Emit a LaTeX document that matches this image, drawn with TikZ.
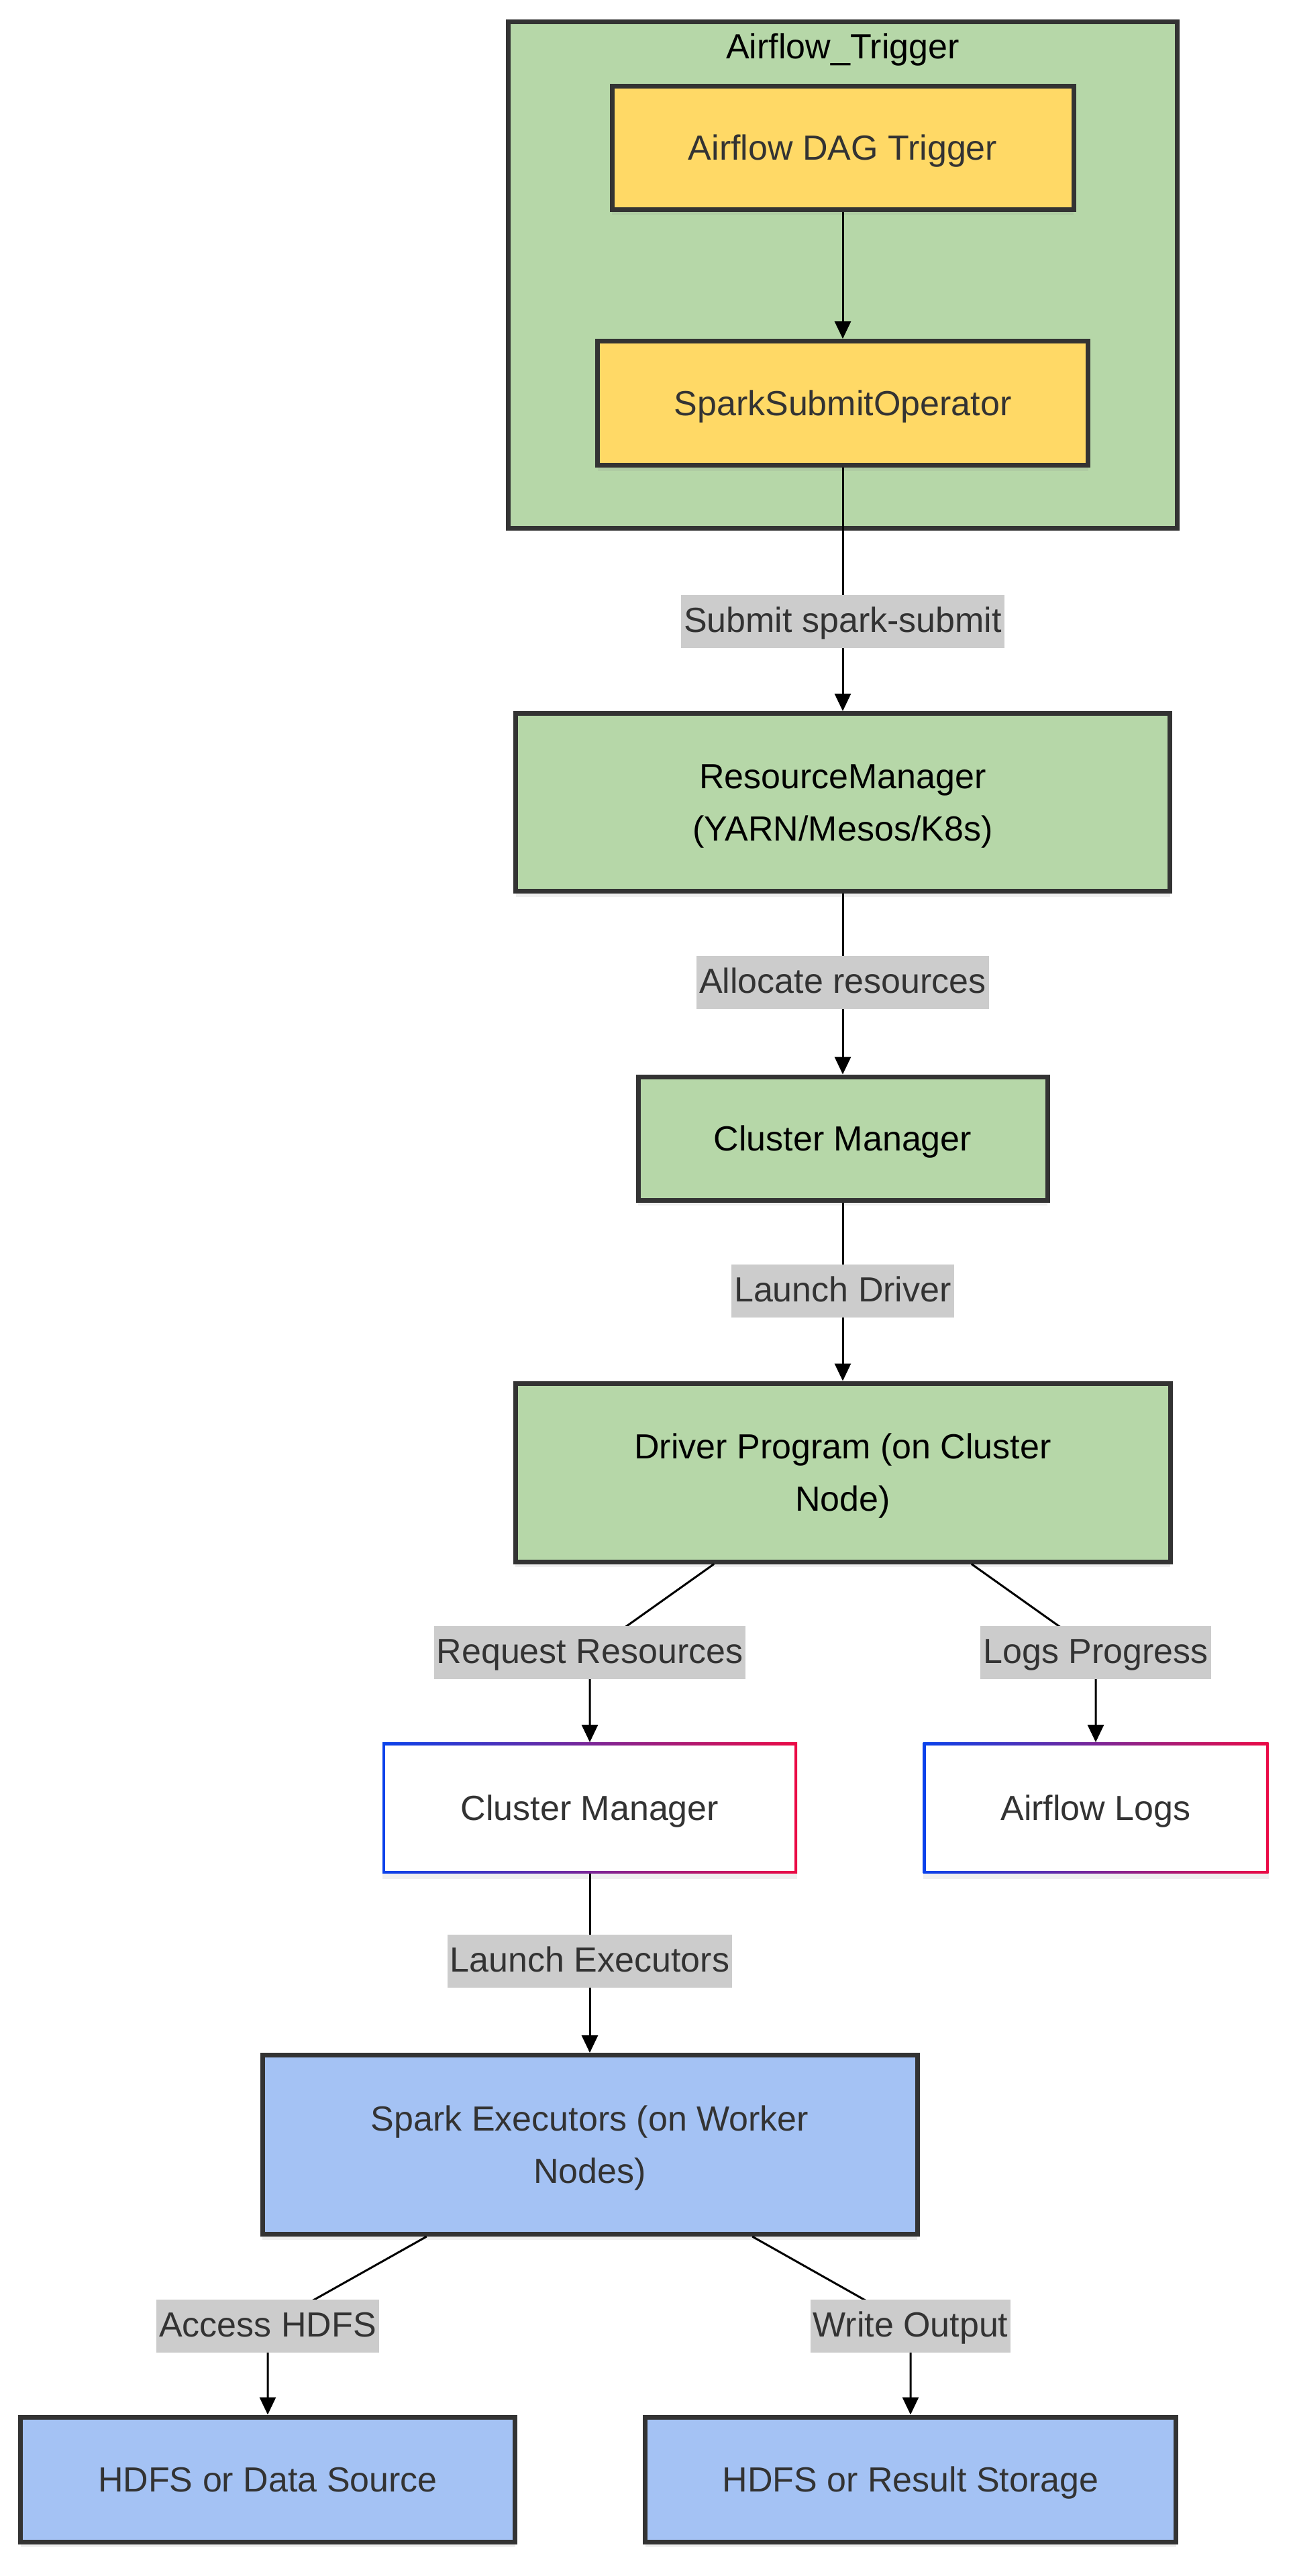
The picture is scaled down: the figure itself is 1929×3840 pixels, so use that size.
\documentclass[tikz,border=0pt]{standalone}
\usepackage{fontspec}
\setmainfont{Liberation Sans}
\usetikzlibrary{arrows.meta,shadows}
\definecolor{gfill}{HTML}{B6D7A8}
\definecolor{yfill}{HTML}{FFD966}
\definecolor{bfill}{HTML}{A4C2F4}
\definecolor{bord}{HTML}{333333}
\definecolor{txt}{HTML}{333333}
\definecolor{lblbg}{HTML}{CCCCCC}
\definecolor{gblue}{HTML}{0A42EB}
\definecolor{gred}{HTML}{EB0A45}
\newcommand{\firststrut}{\rule{0pt}{24pt}}
\tikzset{
  fnt/.style={font=\fontsize{26pt}{39pt}\selectfont},
  shad/.style={drop shadow={shadow xshift=0pt,shadow yshift=-4pt,opacity=0.12}},
  boxbase/.style={rectangle, draw=bord, line width=3.5pt, fnt, align=center, inner sep=0pt, shad},
  oneline/.style={text height=23.5pt, text depth=5.5pt},
  ybox/.style={boxbase, fill=yfill, text=txt},
  gbox/.style={boxbase, fill=gfill, text=black},
  bbox/.style={boxbase, fill=bfill, text=txt},
  gradbox/.style={rectangle, fill=white, text=txt, fnt, align=center, inner sep=0pt, shad, oneline,
    path picture={
      \shade[left color=gblue, right color=gred]
        (path picture bounding box.south west) rectangle (path picture bounding box.north east);
      \fill[white]
        ([shift={(2pt,2pt)}]path picture bounding box.south west) rectangle
        ([shift={(-2pt,-2pt)}]path picture bounding box.north east);
    }},
  clusterbox/.style={rectangle, draw=bord, line width=3.5pt, fill=gfill, inner sep=0pt},
  lbl/.style={rectangle, fill=lblbg, text=txt, fnt, inner xsep=2pt, inner ysep=0pt,
    minimum height=39.5pt, text height=22pt, text depth=5.5pt},
  edge/.style={draw=black, line width=1.5pt, -{Triangle[length=13pt,width=12pt]}}
}
\begin{document}
\begin{tikzpicture}[x=0.5pt,y=-0.5pt]
\useasboundingbox (0,0) rectangle (1929,3840);
\fill[white] (0,0) rectangle (1929,3840);

% cluster
\node[clusterbox, minimum width=498.5pt, minimum height=377.5pt] (trig) at (1256,410) {};
\node[fnt, oneline, text=black, inner sep=0pt] (trigtitle) at (1256,69) {Airflow\_Trigger};

% nodes
\node[ybox, oneline, minimum width=344pt, minimum height=92pt] (dag) at (1256,220) {Airflow DAG Trigger};
\node[ybox, oneline, minimum width=365.5pt, minimum height=92.5pt] (sso) at (1256,601) {SparkSubmitOperator};
\node[gbox, minimum width=487.5pt, minimum height=132.5pt] (rm) at (1256,1196) {\firststrut ResourceManager\\(YARN/Mesos/K8s)};
\node[gbox, oneline, minimum width=305pt, minimum height=92pt] (cm1) at (1256,1697) {Cluster Manager};
\node[gbox, minimum width=488pt, minimum height=133pt] (drv) at (1256,2195) {\firststrut Driver Program (on Cluster\\Node)};
\node[gradbox, minimum width=309pt, minimum height=97.5pt] (cm2) at (879,2695) {Cluster Manager};
\node[gradbox, minimum width=257.5pt, minimum height=97.5pt] (logs) at (1633,2695) {Airflow Logs};
\node[bbox, minimum width=488pt, minimum height=133.5pt] (spark) at (879,3197) {\firststrut Spark Executors (on Worker\\Nodes)};
\node[bbox, oneline, minimum width=368.5pt, minimum height=93pt] (hdfs1) at (399,3696) {HDFS or Data Source};
\node[bbox, oneline, minimum width=395.5pt, minimum height=93pt] (hdfs2) at (1357,3696) {HDFS or Result Storage};

% label positions
\coordinate (c1) at (1256,926);
\coordinate (c2) at (1256,1464);
\coordinate (c3) at (1256,1924);
\coordinate (c4) at (879,2463);
\coordinate (c5) at (1633,2463);
\coordinate (c6) at (879,2923);
\coordinate (c7) at (399,3467);
\coordinate (c8) at (1357,3467);

% edges
\draw[edge] (dag) -- (sso);
\draw[edge] (sso) -- (c1) node[lbl] (l1) {Submit spark-submit} -- (rm);
\draw[edge] (rm) -- (c2) node[lbl] (l2) {Allocate resources} -- (cm1);
\draw[edge] (cm1) -- (c3) node[lbl] (l3) {Launch Driver} -- (drv);
\draw[edge] (drv) -- (c4) node[lbl] (l4) {Request Resources} -- (cm2);
\draw[edge] (drv) -- (c5) node[lbl] (l5) {Logs Progress} -- (logs);
\draw[edge] (cm2) -- (c6) node[lbl] (l6) {Launch Executors} -- (spark);
\draw[edge] (spark) -- (c7) node[lbl] (l7) {Access HDFS} -- (hdfs1);
\draw[edge] (spark) -- (c8) node[lbl] (l8) {Write Output} -- (hdfs2);
\end{tikzpicture}
\end{document}
